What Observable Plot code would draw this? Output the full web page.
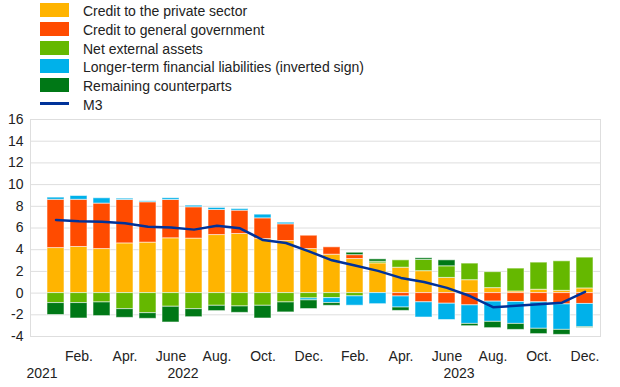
<!DOCTYPE html>
<html>
<head>
<meta charset="utf-8">
<script src="https://cdn.jsdelivr.net/npm/d3@7"></script>
<script src="https://cdn.jsdelivr.net/npm/@observablehq/plot@0.6"></script>
<style>
  html, body { margin: 0; padding: 0; background: #fff; }
  body { font-family: "Liberation Sans", Arial, sans-serif; color: #222; }
  #wrap { position: relative; width: 620px; height: 387px; overflow: hidden; }
  #legend { position: absolute; left: 0; top: 0; width: 620px; height: 115px; }
  .row { position: absolute; left: 40px; height: 18px; line-height: 18px; font-size: 14px; white-space: nowrap; }
  .sw { position: absolute; left: 0; top: 2px; width: 29px; height: 14px; }
  .ln { position: absolute; left: 0; top: 7.5px; width: 29px; height: 3px; }
  .lab { position: absolute; left: 43px; top: 1px; }
  #chart { position: absolute; left: 0; top: 0; }
</style>
</head>
<body>
<div id="wrap">
  <div id="chart"></div>
  <div id="legend"></div>
</div>
<script>
// Categories: months from January 2022 to December 2023
const months = [
  "2022-01","2022-02","2022-03","2022-04","2022-05","2022-06",
  "2022-07","2022-08","2022-09","2022-10","2022-11","2022-12",
  "2023-01","2023-02","2023-03","2023-04","2023-05","2023-06",
  "2023-07","2023-08","2023-09","2023-10","2023-11","2023-12"
];
const monthLabels = [
  "", "Feb.", "", "Apr.", "", "June", "", "Aug.", "", "Oct.", "", "Dec.",
  "", "Feb.", "", "Apr.", "", "June", "", "Aug.", "", "Oct.", "", "Dec."
];
const yearLabels = ["2021", "2022", "2023"];
const yearAnchors = ["2022-01", "2022-06", "2023-06"];
const yearShift = [-14, 12, 12];
const yTicks = [-4, -2, 0, 2, 4, 6, 8, 10, 12, 14, 16];

const seriesNames = [
  "Credit to the private sector",
  "Credit to general government",
  "Net external assets",
  "Longer-term financial liabilities (inverted sign)",
  "Remaining counterparts"
];
const seriesColors = ["#FFB400", "#FF4B00", "#65B800", "#00B1EA", "#007816"];
const lineName = "M3";
const lineColor = "#003299";

// Series values (percentage point contributions)
const privateSector = [4.15, 4.25, 4.06, 4.58, 4.65, 5.05, 5.02, 5.35, 5.45, 4.98, 4.80, 4.06,
                       3.54, 3.14, 2.74, 2.34, 2.02, 1.40, 1.19, 0.46, 0.15, 0.31, 0.21, 0.43];
const generalGov    = [4.45, 4.35, 4.19, 4.00, 3.72, 3.53, 2.89, 2.31, 2.15, 1.91, 1.54, 1.23,
                       0.68, 0.36, 0.00, -0.31, -0.85, -0.98, -1.13, -0.79, -0.82, -0.85, -1.04, -1.00];
const netExternal   = [-0.92, -0.92, -0.86, -1.48, -1.85, -1.26, -1.48, -1.17, -1.23, -1.17, -0.86, -0.49,
                       -0.46, -0.30, 0.15, 0.68, 1.04, 1.07, 1.53, 1.47, 2.11, 2.50, 2.72, 2.84];
const longerTerm    = [0.20, 0.35, 0.49, 0.12, 0.09, 0.16, 0.15, 0.19, 0.15, 0.34, 0.15, -0.18,
                       -0.46, -0.86, -1.02, -1.02, -1.40, -1.50, -1.71, -1.86, -2.02, -2.44, -2.35, -2.14];
const remaining     = [-1.10, -1.42, -1.26, -0.80, -0.52, -1.45, -0.74, -0.49, -0.59, -1.17, -0.92, -0.80,
                       -0.25, 0.22, 0.22, -0.31, 0.15, 0.55, -0.21, -0.58, -0.55, -0.49, -0.46, -0.06];
const m3            = [6.74, 6.62, 6.57, 6.43, 6.12, 6.05, 5.85, 6.20, 5.97, 4.89, 4.62, 3.85,
                       3.02, 2.54, 2.05, 1.40, 1.02, 0.48, -0.27, -1.30, -1.17, -1.02, -0.88, 0.12];

const seriesValues = [privateSector, generalGov, netExternal, longerTerm, remaining];

const rows = [];
seriesNames.forEach((s, si) => {
  months.forEach((m, i) => rows.push({month: m, series: s, value: seriesValues[si][i]}));
});
const lineRows = months.map((m, i) => ({month: m, value: m3[i]}));
const labelOf = new Map(months.map((m, i) => [m, monthLabels[i]]));
const yearRows = yearLabels.map((y, i) => ({year: y, month: yearAnchors[i], shift: yearShift[i]}));

const chart = Plot.plot({
  width: 620,
  height: 387,
  marginTop: 119,
  marginBottom: 51,
  marginLeft: 30,
  marginRight: 20,
  style: {fontFamily: '"Liberation Sans", Arial, sans-serif', fontSize: "14px", color: "#222", background: "transparent"},
  x: {domain: months, paddingInner: 0.27, paddingOuter: 0.15, align: 0.7, label: null},
  y: {domain: [-4, 16], label: null},
  color: {domain: seriesNames, range: seriesColors},
  marks: [
    Plot.gridY(yTicks, {stroke: "#dedede", strokeOpacity: 1, strokeWidth: 1}),
    Plot.frame({stroke: "#dedede"}),
    Plot.barY(rows, {x: "month", y: "value", fill: "series", stroke: "white", strokeOpacity: 0.55, strokeWidth: 1}),
    Plot.line(lineRows, {x: "month", y: "value", stroke: lineColor, strokeWidth: 2.5}),
    Plot.axisY({ticks: yTicks, tickSize: 0, tickPadding: 7, tickFormat: d => String(d).replace("−", "-")}),
    Plot.axisX({tickSize: 0, tickPadding: 15, tickFormat: d => labelOf.get(d)}),
    Plot.text(yearRows, {x: "month", text: "year", frameAnchor: "bottom", lineAnchor: "bottom", dy: 41,
      dx: 0, fill: "#222"})
  ]
});

// shift year labels by half a band (style offsets only)
const yearTexts = chart.querySelectorAll("g[aria-label='text'] text");
yearTexts.forEach((t, i) => {
  const tr = t.getAttribute("transform");
  t.setAttribute("transform", (tr || "") + ` translate(${yearShift[i]},0)`);
});

document.getElementById("chart").appendChild(chart);

// Legend
const legend = document.getElementById("legend");
seriesNames.forEach((s, i) => {
  const r = document.createElement("div");
  r.className = "row";
  r.style.top = (1.3 + i * 18.7) + "px";
  r.innerHTML = `<div class="sw" style="background:${seriesColors[i]}"></div><div class="lab"></div>`;
  r.querySelector(".lab").textContent = s;
  legend.appendChild(r);
});
{
  const r = document.createElement("div");
  r.className = "row";
  r.style.top = (1.3 + 5 * 18.7) + "px";
  r.innerHTML = `<div class="ln" style="background:${lineColor}"></div><div class="lab"></div>`;
  r.querySelector(".lab").textContent = lineName;
  legend.appendChild(r);
}
</script>
</body>
</html>
